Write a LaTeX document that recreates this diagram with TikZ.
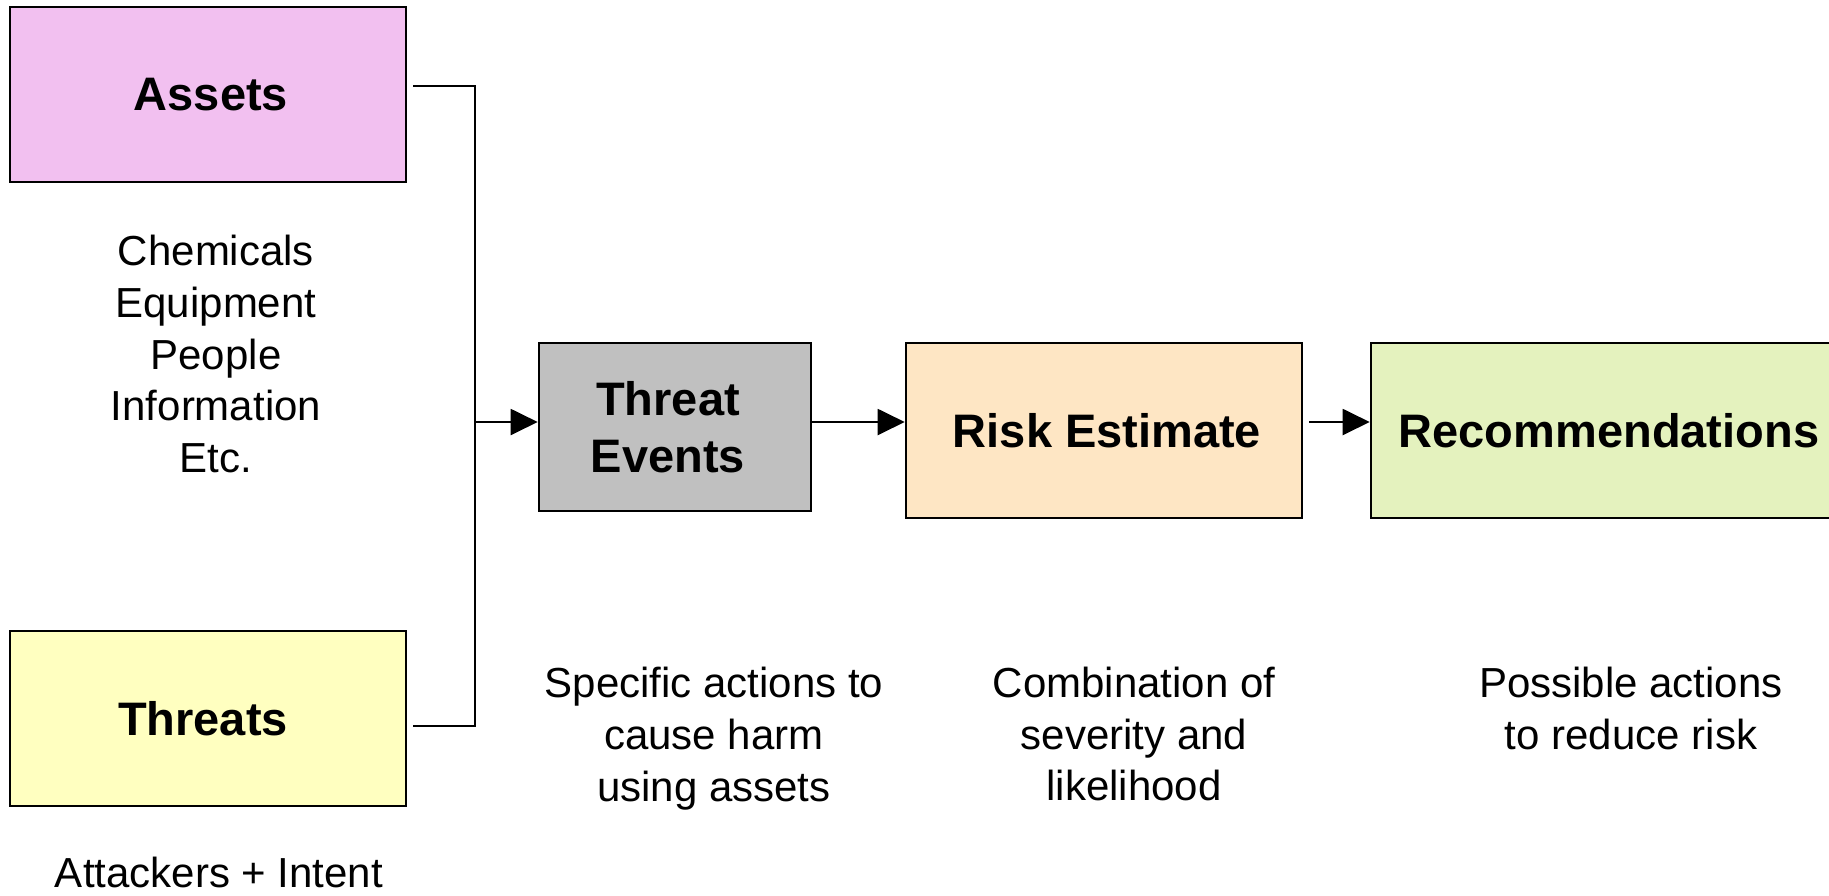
\documentclass[tikz,border=0pt]{standalone}
\usepackage{fontspec}
\setmainfont{Liberation Sans}
\usetikzlibrary{arrows.meta,calc}
\definecolor{assetsfill}{RGB}{242,192,240}
\definecolor{threatsfill}{RGB}{255,255,192}
\definecolor{eventsfill}{RGB}{192,192,192}
\definecolor{riskfill}{RGB}{254,230,196}
\definecolor{recfill}{RGB}{228,242,190}
\tikzset{
  box/.style={draw=black, line width=1.3pt, inner sep=0pt},
  boxtext/.style={inner sep=0pt, align=center,
    font=\fontsize{23.5}{28.5}\selectfont\bfseries},
  desc/.style={inner sep=0pt, align=center, font=\fontsize{21}{25.85}\selectfont},
  conn/.style={draw=black, line width=1pt},
  arr/.style={conn, -{Triangle[length=13.5pt,width=13pt]}}
}
\begin{document}
\begin{tikzpicture}[x=0.5pt,y=-0.5pt]
\useasboundingbox (0,0) rectangle (1829,895);
\clip (0,0) rectangle (1829,895);
\node[box, fill=assetsfill, minimum width=198pt, minimum height=87.5pt,
  label={[boxtext, xshift=1.5pt]center:Assets}] (assets) at (208,94.5) {};
\node[box, fill=threatsfill, minimum width=198pt, minimum height=87.5pt,
  label={[boxtext, xshift=-2.5pt]center:Threats}] (threats) at (208,718.5) {};
\node[box, fill=eventsfill, minimum width=136pt, minimum height=84pt,
  label={[boxtext, xshift=-3.5pt]center:Threat\\Events}] (events) at (675,427) {};
\node[box, fill=riskfill, minimum width=198pt, minimum height=87.5pt,
  label={[boxtext, xshift=1.5pt]center:Risk Estimate}] (risk) at (1104,430.5) {};
\node[box, fill=recfill, minimum width=236pt, minimum height=87.5pt,
  label={[boxtext, xshift=1pt]center:Recommendations}] (rec) at (1607,430.5) {};
\node[desc] (assetlist) at (216,354) {Chemicals\\Equipment\\People\\Information\\Etc.};
\node[inner sep=0pt, font=\fontsize{21}{25.85}\selectfont, anchor=base] (threatlist) at (219,887) {Attackers + Intent};
\node[desc] (eventsdesc) at (714,738.5) {Specific actions to\\cause harm\\using assets};
\node[desc] (riskdesc) at (1134,734) {Combination of\\severity and\\likelihood};
\node[desc] (recdesc) at (1631,708.5) {Possible actions\\to reduce risk};
\coordinate (j) at (475,422);
\coordinate (ja) at (475,86);
\coordinate (jt) at (475,726);
\draw[conn] ($(assets.east |- ja)+(6,0)$) -- (ja) -- (jt) -- ($(threats.east |- jt)+(6,0)$);
\draw[arr] (j) -- (j -| events.west);
\draw[arr] (j -| events.east) -- (j -| risk.west);
\draw[arr] ($(j -| risk.east)+(6,0)$) -- (j -| rec.west);
\end{tikzpicture}
\end{document}
